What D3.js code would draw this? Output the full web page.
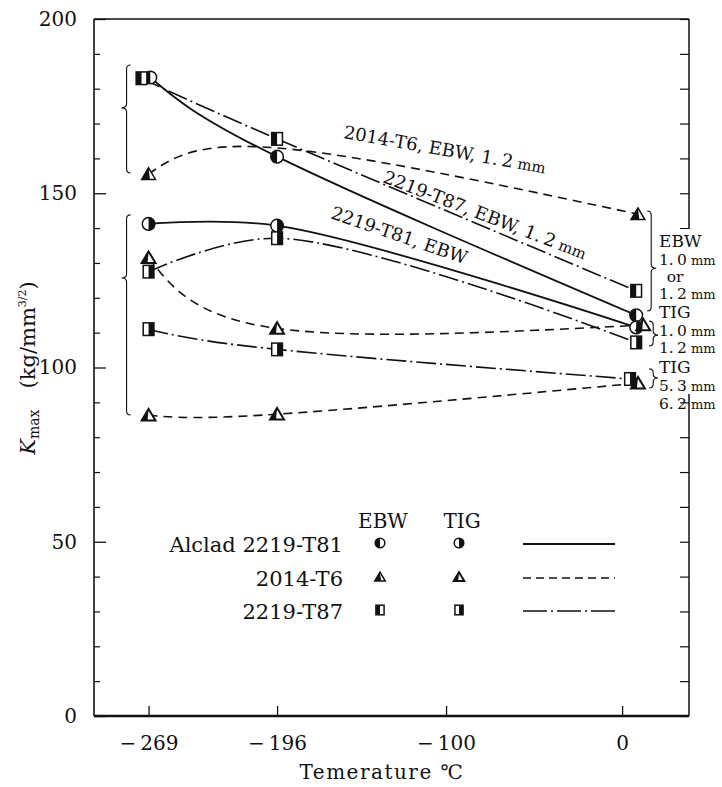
<!DOCTYPE html>
<html><head><meta charset="utf-8">
<script src="https://cdn.jsdelivr.net/npm/d3@7"></script>
<style>
body{margin:0;background:#fff}
svg{display:block}
text{font-family:"DejaVu Serif","Liberation Serif",serif;fill:#111}
</style>
</head><body>
<svg id="c" width="722" height="787"></svg>
<script>
// ---------- data ----------
const xTickValues = [-269, -196, -100, 0];
const xTickLabels = ["\u2212\u2009269", "\u2212\u2009196", "\u2212\u2009100", "0"];
const yMajorTicks = [0, 50, 100, 150, 200];
const yMinorTicks = [10, 20, 30, 40, 60, 70, 80, 90, 110, 120, 130, 140, 160, 170, 180, 190];
const yAllTicks = [0, 10, 20, 30, 40, 50, 60, 70, 80, 90, 100, 110, 120, 130, 140, 150, 160, 170, 180, 190, 200];

// temperature (°C), Kmax ; m:false = curve point without a marker
const t81EBW   = [{t:-268, k:183.2}, {t:-196, k:160.5}, {t:8,  k:115.0}];
const t87EBW   = [{t:-273, k:183.0}, {t:-196, k:165.6}, {t:8,  k:122.0}];
const t6EBW    = [{t:-269, k:155.5}, {t:-196, k:163.0, m:false}, {t:9, k:144.0}];
const t81TIG   = [{t:-269, k:141.2}, {t:-196, k:140.7}, {t:8,  k:111.5}];
const t6TIG    = [{t:-269, k:131.5}, {t:-196, k:111.2}, {t:12, k:112.2}];
const t87TIG   = [{t:-269, k:127.5}, {t:-196, k:137.1}, {t:8,  k:107.2}];
const t87TIG53 = [{t:-269, k:111.0}, {t:-196, k:105.2}, {t:4.5,k:96.7}];
const t6TIG62  = [{t:-269, k:86.3},  {t:-196, k:86.6},  {t:9,  k:95.5}];

const legendRows   = ["Alclad 2219-T81", "2014-T6", "2219-T87"];
const legendShapes = ["circle", "triangle", "square"];
const legendStyles = ["solid", "dashed", "dashdot"];
const legendCols   = ["EBW", "TIG"];

const curveLabels = ["2014-T6, EBW, 1.\u20092", "2219-T87, EBW, 1.\u20092", "2219-T81, EBW"];
const curveLabelUnits = [" mm", " mm", ""];
const sideNoteMain = ["EBW", "1.\u20090", "\u2002or", "1.\u20092", "TIG", "1.\u20090", "1.\u20092", "TIG", "5.\u20093", "6.\u20092"];
const sideNoteUnit = ["", " mm", "", " mm", "", " mm", " mm", "", " mm", " mm"];

// ---------- setup ----------
const svg = d3.select("#c");
const L = 94, R = 689, T = 19, B = 716;
const x = d3.scaleLinear().domain([-300, 38]).range([L, R]);
const y = d3.scaleLinear().domain([0, 200]).range([B, T]);

const series = [
  {pts:t81EBW,   shape:"circle",   weld:"EBW", style:"solid",   curve:d3.curveNatural},
  {pts:t87EBW,   shape:"square",   weld:"EBW", style:"dashdot", curve:d3.curveNatural},
  {pts:t6EBW,    shape:"triangle", weld:"EBW", style:"dashed",  curve:d3.curveNatural},
  {pts:t81TIG,   shape:"circle",   weld:"TIG", style:"solid",   curve:d3.curveCatmullRom},
  {pts:t6TIG,    shape:"triangle", weld:"TIG", style:"dashed",  curve:d3.curveNatural},
  {pts:t87TIG,   shape:"square",   weld:"TIG", style:"dashdot", curve:d3.curveCatmullRom},
  {pts:t87TIG53, shape:"square",   weld:"TIG", style:"dashdot", curve:d3.curveNatural},
  {pts:t6TIG62,  shape:"triangle", weld:"TIG", style:"dashed",  curve:d3.curveNatural}
];
const dashes = {solid:null, dashed:"9,6", dashdot:"20,4,2,4"};
const legendDashes = {solid:null, dashed:"8,5", dashdot:"24,4,2,4"};

// ---------- frame & axes ----------
const frame = svg.append("g").attr("stroke", "#111").attr("fill", "none");
frame.append("line").attr("x1", L).attr("x2", R).attr("y1", T).attr("y2", T).attr("stroke-width", 1.5);
frame.append("line").attr("x1", L).attr("x2", L).attr("y1", T).attr("y2", B).attr("stroke-width", 1.6);
frame.append("line").attr("x1", R).attr("x2", R).attr("y1", T).attr("y2", B).attr("stroke-width", 1.5);

svg.append("g").attr("transform", `translate(${L},0)`)
  .call(d3.axisLeft(y).tickValues(yMinorTicks).tickSize(-6).tickFormat(""))
  .call(g => g.select(".domain").remove())
  .call(g => g.selectAll("line").attr("stroke", "#111").attr("stroke-width", 1.2));
svg.append("g").attr("transform", `translate(${L},0)`)
  .call(d3.axisLeft(y).tickValues(yMajorTicks).tickSize(-12).tickPadding(17).tickFormat(d3.format("d")))
  .call(g => g.select(".domain").remove())
  .call(g => g.selectAll("line").attr("stroke", "#111").attr("stroke-width", 1.3))
  .call(g => g.selectAll("text").attr("font-size", 20).attr("font-family", "DejaVu Serif").attr("fill", "#111"));
svg.append("g").attr("transform", `translate(${R},0)`)
  .call(d3.axisRight(y).tickValues(yAllTicks).tickSize(-9).tickFormat(""))
  .call(g => g.select(".domain").remove())
  .call(g => g.selectAll("line").attr("stroke", "#111").attr("stroke-width", 1.2));
svg.append("g").attr("transform", `translate(0,${B})`)
  .call(d3.axisBottom(x).tickValues(xTickValues).tickSize(-10).tickPadding(20).tickFormat((d, i) => xTickLabels[i]))
  .call(g => g.select(".domain").attr("d", `M${L},0H${R}`).attr("stroke", "#111").attr("stroke-width", 2.4))
  .call(g => g.selectAll("line").attr("stroke", "#111").attr("stroke-width", 1.3))
  .call(g => g.selectAll("text").attr("font-size", 20).attr("font-family", "DejaVu Serif").attr("fill", "#111"));

svg.append("text").attr("x", 382).attr("y", 779).attr("text-anchor", "middle")
  .attr("font-size", 20).attr("letter-spacing", 1.5).text("Temerature \u2103");
const yl = svg.append("text").attr("transform", "translate(35,368) rotate(-90)")
  .attr("text-anchor", "middle").attr("font-size", 21);
yl.append("tspan").attr("font-style", "italic").text("K");
yl.append("tspan").attr("font-size", 14).attr("dy", 4).text("max");
yl.append("tspan").attr("dy", -4).text("\u2003(kg/mm");
yl.append("tspan").attr("font-size", 11).attr("dy", -9).text("3/2");
yl.append("tspan").attr("dy", 9).text(")");

// ---------- curves ----------
const curves = svg.append("g").attr("fill", "none").attr("stroke", "#111");
series.forEach(s => {
  const line = d3.line().x(d => x(d.t)).y(d => y(d.k)).curve(s.curve);
  curves.append("path").attr("d", line(s.pts))
    .attr("stroke-width", s.style === "solid" ? 1.8 : 1.6)
    .attr("stroke-dasharray", dashes[s.style]);
});

// ---------- markers ----------
function drawMarker(g, shape, weld, sz) {
  const sw = 1.5;
  if (shape === "circle") {
    const r = sz;
    g.append("circle").attr("r", r).attr("fill", "#fff").attr("stroke", "#111").attr("stroke-width", sw);
    const sweep = weld === "EBW" ? 0 : 1;
    g.append("path").attr("d", `M0,${-r}A${r},${r} 0 0 ${sweep} 0,${r}Z`).attr("fill", "#111");
  } else if (shape === "square") {
    const w = sz * 0.85, h = sz;
    g.append("rect").attr("x", -w).attr("y", -h).attr("width", 2 * w).attr("height", 2 * h)
      .attr("fill", "#fff").attr("stroke", "#111").attr("stroke-width", sw);
    g.append("rect").attr("x", weld === "EBW" ? -w : 0).attr("y", -h).attr("width", w).attr("height", 2 * h).attr("fill", "#111");
  } else {
    const w = sz * 1.1, h = sz;
    g.append("path").attr("d", `M0,${-h}L${w},${h * 0.85}L${-w},${h * 0.85}Z`)
      .attr("fill", "#fff").attr("stroke", "#111").attr("stroke-width", weld === "EBW" ? sw : 2).attr("stroke-linejoin", "miter");
    g.append("path").attr("d", weld === "EBW" ? `M0,${-h}L${w * 0.2},${h * 0.85}L${-w},${h * 0.85}Z` : `M0,${-h}L${-w * 0.15},${h * 0.85}L${-w},${h * 0.85}Z`)
      .attr("fill", "#111");
  }
}
const markers = svg.append("g");
series.forEach(s => {
  s.pts.filter(p => p.m !== false).forEach(p => {
    const g = markers.append("g").attr("transform", `translate(${x(p.t)},${y(p.k)})`);
    drawMarker(g, s.shape, s.weld, 6.3);
  });
});

// ---------- braces ----------
function brace(x0, y1, y2, ym, dir) {
  const r = 4, w = 5 * dir;
  return `M${x0 - r * dir},${y1}Q${x0},${y1} ${x0},${y1 + r}` +
         `L${x0},${ym - r}Q${x0},${ym} ${x0 + w},${ym}` +
         `Q${x0},${ym} ${x0},${ym + r}L${x0},${y2 - r}Q${x0},${y2} ${x0 - r * dir},${y2}`;
}
const braces = svg.append("g").attr("fill", "none").attr("stroke", "#111").attr("stroke-width", 1.1);
const leftBraceX = x(-269) - 22;
braces.append("path").attr("d", brace(leftBraceX, y(186.8), y(155.8), y(174.5), -1));
braces.append("path").attr("d", brace(leftBraceX, y(143.8), y(86.4), y(125.7), -1));
const rightBraceX = x(8) + 15;
braces.append("path").attr("d", brace(rightBraceX, y(144.9), y(116.2), y(128.5), 1));
braces.append("path").attr("d", brace(rightBraceX + 2, y(113.3), y(106.2), y(109.3), 1));
braces.append("path").attr("d", brace(rightBraceX + 2, y(99.6), y(94.1), y(97.0), 1));

// side notes (white backing interrupts the right axis)
svg.append("rect").attr("x", 658).attr("y", 229).attr("width", 64).attr("height", 165).attr("fill", "#fff");
const noteY = [247, 265, 282, 299, 318, 336, 353, 373, 391, 409];
sideNoteMain.forEach((s, i) => {
  const t = svg.append("text").attr("x", 659).attr("y", noteY[i]).attr("font-size", i === 0 || i === 4 || i === 7 ? 17 : 15.5);
  t.append("tspan").text(s);
  if (sideNoteUnit[i]) t.append("tspan").attr("font-size", 13).text(sideNoteUnit[i]);
});

// ---------- curve labels ----------
const labelPos = [[343, 138, 10], [382, 182, 21], [330, 218, 19]];
curveLabels.forEach((s, i) => {
  const t = svg.append("text")
    .attr("transform", `translate(${labelPos[i][0]},${labelPos[i][1]}) rotate(${labelPos[i][2]})`)
    .attr("font-size", 18);
  t.append("tspan").text(s);
  if (curveLabelUnits[i]) t.append("tspan").attr("font-size", 15).text(curveLabelUnits[i]);
});

// ---------- legend ----------
const lg = svg.append("g");
const colX = [383, 462];
legendCols.forEach((c, j) => {
  lg.append("text").attr("x", colX[j]).attr("y", 528).attr("text-anchor", "middle").attr("font-size", 20).text(c);
});
const rowY = [544, 578, 611];
legendRows.forEach((name, i) => {
  lg.append("text").attr("x", 343).attr("y", rowY[i] + 8).attr("text-anchor", "end").attr("font-size", 21).text(name);
  legendCols.forEach((c, j) => {
    const g = lg.append("g").attr("transform", `translate(${colX[j] - 3},${rowY[i] - 1})`);
    drawMarker(g, legendShapes[i], c, 4.8);
  });
  lg.append("line").attr("x1", 523).attr("x2", 615).attr("y1", rowY[i]).attr("y2", rowY[i])
    .attr("stroke", "#111").attr("stroke-width", legendStyles[i] === "solid" ? 2 : 1.6)
    .attr("stroke-dasharray", legendDashes[legendStyles[i]]);
});
</script>
</body></html>
